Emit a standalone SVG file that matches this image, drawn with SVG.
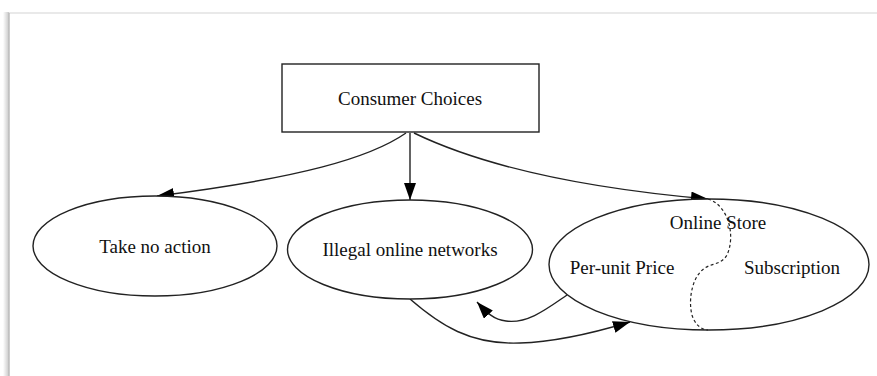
<svg xmlns="http://www.w3.org/2000/svg" width="877" height="376" viewBox="0 0 877 376">
  <defs>
    <marker id="arrow" markerUnits="userSpaceOnUse" markerWidth="18" markerHeight="13" refX="17" refY="6" orient="auto">
      <path d="M0,0 L17,6 L0,12 Z" fill="#000"/>
    </marker>
    <linearGradient id="edgeShade" x1="0" y1="0" x2="1" y2="0">
      <stop offset="0" stop-color="#ffffff"/>
      <stop offset="1" stop-color="#c8c8c8"/>
    </linearGradient>
    <style>
      .node { fill: #fff; stroke: #222; stroke-width: 1.4; }
      .edge { fill: none; stroke: #222; stroke-width: 1.4; marker-end: url(#arrow); }
      .divider { fill: none; stroke: #222; stroke-width: 1.2; stroke-dasharray: 3 2.5; }
      .label { font-family: "Liberation Serif", "Times New Roman", serif; font-size: 19px; fill: #111; text-anchor: middle; dominant-baseline: central; }
    </style>
  </defs>

  <!-- page background and edge -->
  <rect x="0" y="0" width="877" height="376" fill="#fff"/>
  <rect x="3" y="12" width="6" height="364" fill="url(#edgeShade)"/>
  <line x1="9" y1="13" x2="877" y2="13" stroke="#e2e2e2" stroke-width="1.5"/>
  <line x1="9" y1="13" x2="9" y2="376" stroke="#bdbdbd" stroke-width="1.5"/>

  <!-- connectors -->
  <g id="connectors">
    <path class="edge" d="M406,133 C370,158 300,178 157,196"/>
    <path class="edge" d="M410,133 L410,200"/>
    <path class="edge" d="M414,133 C470,160 560,186 708,199"/>
    <path class="edge" d="M567,295 C548,308 528,324 506,321 C494,320 486,312 477,302"/>
    <path class="edge" d="M410,299 C440,325 470,345 520,343 C560,342 600,331 630,322"/>
  </g>

  <g id="consumer-choices">
    <rect class="node" x="282" y="64" width="257" height="68"/>
    <text class="label" x="410" y="98.5">Consumer Choices</text>
  </g>

  <g id="take-no-action">
    <ellipse class="node" cx="155" cy="246" rx="122" ry="50"/>
    <text class="label" x="155" y="246">Take no action</text>
  </g>

  <g id="illegal-networks">
    <ellipse class="node" cx="410" cy="249.5" rx="122.5" ry="49.5"/>
    <text class="label" x="410" y="249.5">Illegal online networks</text>
  </g>

  <g id="online-store">
    <ellipse class="node" cx="709" cy="264.5" rx="160" ry="65.5"/>
    <path class="divider" d="M708,199 C728,205 736,235 727,255 C721,265 712,263 705,268 C692,276 688,300 692,315 C695,325 702,330 708,330"/>
    <text class="label" x="718" y="222">Online Store</text>
    <text class="label" x="622" y="267">Per-unit Price</text>
    <text class="label" x="792" y="267">Subscription</text>
  </g>
</svg>
